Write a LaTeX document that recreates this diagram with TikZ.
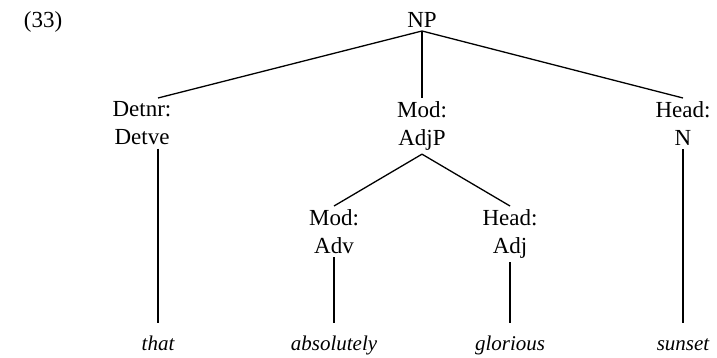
\documentclass[tikz,border=0pt]{standalone}
\usepackage{fontspec}
\setmainfont{Liberation Serif}

\begin{document}
\begin{tikzpicture}[x=1pt,y=-1pt,line width=1.3pt,
  cat/.style={align=center,anchor=north,inner sep=3pt,font=\fontsize{23}{28}\selectfont},
  word/.style={anchor=base,inner sep=3pt,text height=15pt,text depth=5pt,font=\fontsize{21}{25}\selectfont\itshape}]

  \useasboundingbox (0,0) rectangle (717,357);

  \node[anchor=base west,font=\fontsize{23}{28}\selectfont] (ex) at (20,27) {(33)};
  \node[anchor=base,font=\fontsize{23}{28}\selectfont] (np) at (422,27) {NP};

  \node[cat] (detnr) at (142,98) {Detnr:\\Detve};
  \node[cat] (adjp) at (422,98) {Mod:\\AdjP};
  \node[cat] (headn) at (683,98) {Head:\\N};

  \node[cat] (adv) at (334,206) {Mod:\\Adv};
  \node[cat] (adj) at (510,206) {Head:\\Adj};

  \node[word] (that) at (158,350) {that};
  \node[word] (absolutely) at (334,350) {absolutely};
  \node[word] (glorious) at (510,350) {glorious};
  \node[word] (sunset) at (683,350) {sunset};

  \draw (np.south) -- (detnr.north -| that);
  \draw (np.south) -- (adjp.north);
  \draw (np.south) -- (headn.north);
  \draw (adjp.south) -- (adv.north);
  \draw (adjp.south) -- (adj.north);

  \draw[shorten >=8pt] (detnr.south -| that) -- (that.north);
  \draw[shorten >=8pt] (adv.south) -- (absolutely.north);
  \draw[shorten >=8pt] (adj.south) -- (glorious.north);
  \draw[shorten >=8pt] (headn.south) -- (sunset.north);
\end{tikzpicture}
\end{document}
